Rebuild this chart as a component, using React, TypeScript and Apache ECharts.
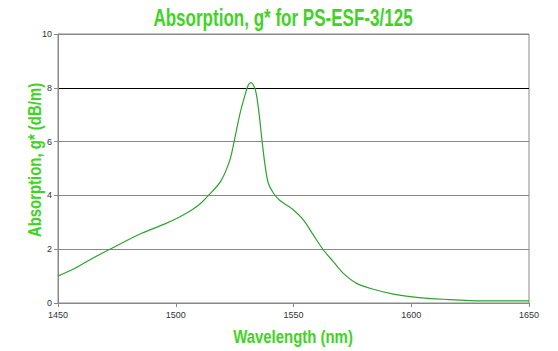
import React, { useEffect, useRef } from "react";
import * as echarts from "echarts";

const wavelengths = [
  1450, 1457.2, 1464, 1471.4, 1485.5, 1495.4, 1501, 1506.8, 1510.5, 1514, 1519, 1523, 1525.2, 1527.3,
  1529.4, 1530.8, 1532, 1533.8, 1535.2, 1536.6, 1538, 1539.3, 1541.5, 1544, 1550, 1554.2, 1558.4, 1562.7,
  1566.9, 1571.2, 1576.8, 1583.9, 1592.4, 1602.3, 1613.6, 1630.6, 1650,
];
const absorption = [
  1.0, 1.29, 1.63, 1.97, 2.59, 2.94, 3.17, 3.46, 3.7, 4.01, 4.51, 5.32, 6.18, 7.05,
  7.73, 8.1, 8.19, 7.92, 7.17, 6.06, 5.07, 4.45, 4.08, 3.83, 3.46, 3.09, 2.53, 1.97,
  1.54, 1.1, 0.73, 0.51, 0.33, 0.21, 0.14, 0.08, 0.08,
];
const xTicks = { min: 1450, max: 1650, interval: 50 };
const yTicks = { min: 0, max: 10, interval: 2 };

const title = "Absorption, g* for PS-ESF-3/125";
const xTitle = "Wavelength (nm)";
const yTitle = "Absorption, g* (dB/m)";

const GREEN = "#3fd424";
const FONT = "'Liberation Sans', Arial, sans-serif";

export default function App() {
  const ref = useRef<HTMLDivElement>(null);
  useEffect(() => {
    if (!ref.current) return;
    const chart = echarts.init(ref.current, undefined, { renderer: "svg" });
    const titleStyle = (size: number) => ({
      fill: GREEN,
      fontSize: size,
      fontWeight: "bold",
      fontFamily: FONT,
      align: "center",
      verticalAlign: "middle",
    });
    chart.setOption({
      animation: false,
      backgroundColor: "#ffffff",
      graphic: [
        { type: "text", x: 283, y: 17, scaleX: 0.71, style: { text: title, ...titleStyle(24) } },
        { type: "text", x: 293, y: 337, scaleX: 0.83, style: { text: xTitle, ...titleStyle(18) } },
        {
          type: "text",
          x: 35,
          y: 160,
          rotation: Math.PI / 2,
          scaleX: 0.83,
          style: { text: yTitle, ...titleStyle(18) },
        },
      ],
      grid: {
        left: 58,
        right: 29,
        top: 34,
        bottom: 48,
        show: true,
        borderColor: "#888888",
        borderWidth: 1,
      },
      xAxis: {
        type: "value",
        ...xTicks,
        axisLine: { show: true, lineStyle: { color: "#888888" } },
        axisTick: { show: true, length: 4, lineStyle: { color: "#888888" } },
        axisLabel: {
          color: "#333333",
          fontSize: 9,
          fontFamily: FONT,
          margin: 7,
          formatter: (v: number) => String(v),
        },
        splitLine: { show: false },
      },
      yAxis: {
        type: "value",
        ...yTicks,
        axisLine: { show: true, lineStyle: { color: "#888888" } },
        axisTick: { show: true, length: 4, lineStyle: { color: "#888888" } },
        axisLabel: { color: "#333333", fontSize: 9, fontFamily: FONT, margin: 6 },
        splitLine: {
          show: true,
          lineStyle: { color: ["#888888", "#888888", "#888888", "#888888", "#000000", "#888888"], width: 1 },
        },
      },
      series: [
        {
          type: "line",
          data: wavelengths.map((w, i) => [w, absorption[i]]),
          showSymbol: false,
          smooth: 0.3,
          lineStyle: { color: "#2aa52a", width: 1.2 },
        },
      ],
    });
    return () => chart.dispose();
  }, []);
  return <div ref={ref} style={{ width: 558, height: 351, position: "absolute", left: 0, top: 0 }} />;
}
